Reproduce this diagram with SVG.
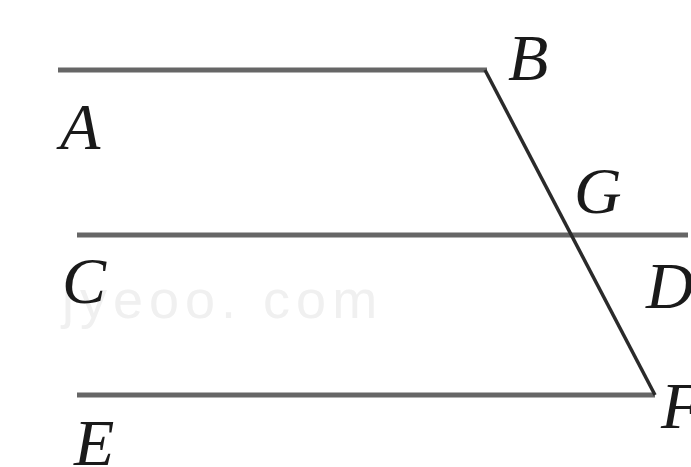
<svg xmlns="http://www.w3.org/2000/svg" width="691" height="467" viewBox="0 0 691 467">
<style>
.par{stroke:#666;stroke-width:5;fill:none}
.tr{stroke:#2a2a2a;stroke-width:3.5;fill:none}
.lb{font-family:"Liberation Serif","Times New Roman",serif;font-style:italic;font-size:66px;fill:#1a1a1a}
.wm{font-family:"Liberation Sans",Arial,sans-serif;font-size:54px;fill:#f0f0f0;letter-spacing:6px}
</style>
<rect width="691" height="467" fill="#fff"/>
<text class="wm" x="62" y="318">jyeoo. com</text>
<g id="connectors">
<line class="par" x1="58" y1="70" x2="487" y2="70"/>
<line class="par" x1="77" y1="235" x2="688" y2="235"/>
<line class="par" x1="77" y1="395" x2="655" y2="395"/>
<polyline class="tr" points="485,70 655,395"/>
</g>
<g id="A"><text class="lb" x="60" y="149">A</text></g>
<g id="B"><text class="lb" x="508" y="80">B</text></g>
<g id="G"><text class="lb" x="574" y="213">G</text></g>
<g id="C"><text class="lb" x="62" y="303">C</text></g>
<g id="D"><text class="lb" x="646" y="308">D</text></g>
<g id="E"><text class="lb" x="74" y="465">E</text></g>
<g id="F"><text class="lb" x="661" y="428">F</text></g>
</svg>
